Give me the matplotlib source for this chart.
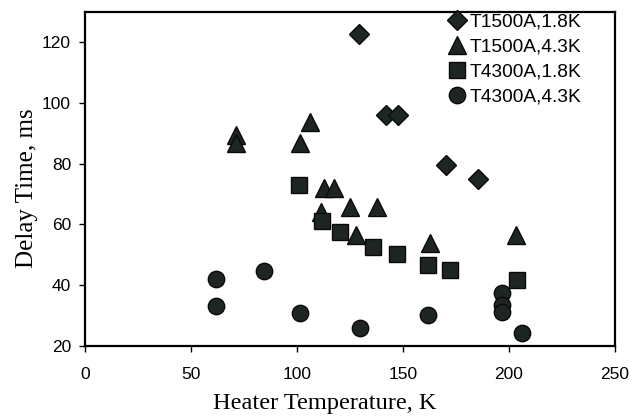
import matplotlib
matplotlib.use("Agg")
import matplotlib.pyplot as plt

# T1500A, 1.8K (diamonds)
t1500_18_x = [129.2, 141.8, 147.6, 170.5, 185.4]
t1500_18_y = [122.8, 95.9, 95.9, 79.4, 74.8]

# T1500A, 4.3K (triangles)
t1500_43_x = [71.2, 71.2, 101.3, 106.3, 112.6, 117.3, 111.4, 125.2, 137.8, 127.6, 162.7, 203.2]
t1500_43_y = [89.3, 86.9, 86.6, 93.7, 71.8, 71.8, 63.9, 65.7, 65.7, 56.4, 53.7, 56.4]

# T4300A, 1.8K (squares)
t4300_18_x = [100.8, 112.0, 120.5, 136.0, 147.0, 161.9, 172.2, 203.7]
t4300_18_y = [72.9, 61.0, 57.5, 52.6, 50.2, 46.5, 44.9, 41.6]

# T4300A, 4.3K (circles)
t4300_43_x = [61.9, 61.9, 84.3, 101.6, 129.6, 161.9, 196.9, 196.9, 196.9, 205.9]
t4300_43_y = [42.0, 33.2, 44.7, 30.9, 25.7, 30.1, 37.2, 33.4, 31.2, 24.1]

labels = ["T1500A,1.8K", "T1500A,4.3K", "T4300A,1.8K", "T4300A,4.3K"]
x_ticks = [0, 50, 100, 150, 200, 250]
y_ticks = [20, 40, 60, 80, 100, 120]

fig = plt.figure(figsize=(6.41, 4.17), dpi=100)
ax = fig.add_axes([85/641, 1 - 345.7/417, 530/641, 334/417])

fill = "#1e2622"
edge = "#0a0a0a"
common = dict(linestyle="none", markerfacecolor=fill, markeredgecolor=edge, markeredgewidth=1.0)
ax.plot(t1500_18_x, t1500_18_y, marker="D", markersize=10, label=labels[0], **common)
ax.plot(t1500_43_x, t1500_43_y, marker="^", markersize=13.5, label=labels[1], **common)
ax.plot(t4300_18_x, t4300_18_y, marker="s", markersize=11.5, label=labels[2], **common)
ax.plot(t4300_43_x, t4300_43_y, marker="o", markersize=11.8, label=labels[3], **common)

ax.set_xlim(0, 250)
ax.set_ylim(20, 130)
ax.set_xticks(x_ticks)
ax.set_yticks(y_ticks)
for s in ax.spines.values():
    s.set_linewidth(1.6)
    s.set_color("black")
ax.tick_params(direction="out", length=4, width=1.0, labelsize=12.5)
ax.tick_params(axis="x", pad=11)
ax.tick_params(axis="y", pad=6)
for lab in ax.get_xticklabels() + ax.get_yticklabels():
    lab.set_fontfamily("Liberation Sans")

ax.set_xlabel("Heater Temperature, K", fontfamily="Liberation Serif", fontsize=17.6)
ax.set_ylabel("Delay Time, ms", fontfamily="Liberation Serif", fontsize=18)
ax.xaxis.set_label_coords((325 - 85) / 530, -(393 - 345.7) / 334)
ax.yaxis.set_label_coords((38 - 85) / 530, (345.7 - 188.5) / 334)

leg = ax.legend(loc="upper left", bbox_to_anchor=((449-85)/530, (345.7-13)/334),
                frameon=False, handlelength=0.8, handletextpad=0.3, borderpad=0,
                labelspacing=0.4, borderaxespad=0,
                prop={"family": "Liberation Sans", "size": 13.8})

fig.savefig("out.png", dpi=100, facecolor="white")
